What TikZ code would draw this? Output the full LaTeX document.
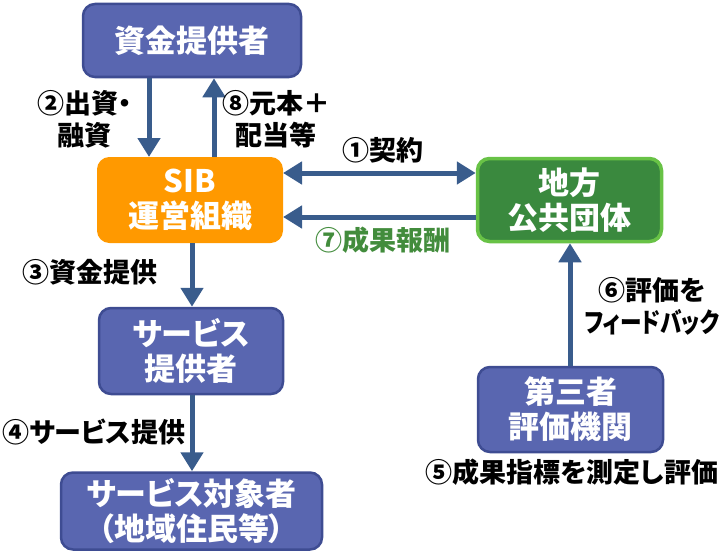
\documentclass[tikz,border=0pt]{standalone}
\usepackage{fontspec}
\setmainfont{Noto Sans CJK JP Black}[RawFeature=+palt]
\usetikzlibrary{arrows.meta}
\definecolor{boxblue}{RGB}{89,102,176}
\definecolor{boxblueline}{RGB}{62,76,146}
\definecolor{sibor}{RGB}{255,153,0}
\definecolor{locgreen}{RGB}{58,137,62}
\definecolor{locline}{RGB}{104,194,70}
\definecolor{arrblue}{RGB}{57,92,140}
\definecolor{lblgreen}{RGB}{66,140,60}
\tikzset{
  box/.style={rounded corners=12pt, align=center, text=white, font=\fontsize{31}{35}\selectfont, inner sep=0pt},
  bluebox/.style={box, fill=boxblue, draw=boxblueline, line width=2.5pt},
  orangebox/.style={box, fill=sibor, draw=sibor, line width=1pt},
  greenbox/.style={box, fill=locgreen, draw=locline, line width=3.5pt},
  arr/.style={draw=arrblue, line width=5pt, -{Triangle[width=22pt,length=19pt]}},
  darr/.style={draw=arrblue, line width=5pt, {Triangle[width=22pt,length=19pt]}-{Triangle[width=22pt,length=19pt]}},
  lbl/.style={align=center, font=\fontsize{27}{32}\selectfont, text=black, inner sep=0pt},
}
\begin{document}
\begin{tikzpicture}[x=1pt,y=-1pt]
\useasboundingbox (0,0) rectangle (728,551);
\node[bluebox, minimum width=218pt, minimum height=73pt] (fund) at (192,40.5) {資金提供者};
\node[orangebox, minimum width=185pt, minimum height=85pt] (sib) at (190,200) {SIB\\運営組織};
\node[greenbox, minimum width=184pt, minimum height=83pt] (loc) at (569.5,200) {地方\\公共団体};
\node[bluebox, minimum width=184pt, minimum height=86pt] (svc) at (191,351) {サービス\\提供者};
\node[bluebox, minimum width=261pt, minimum height=77pt] (tgt) at (191.5,511) {サービス対象者\\（地域住民等）};
\node[bluebox, minimum width=185pt, minimum height=85pt] (eval) at (570.5,409.5) {第三者\\評価機関};

\draw[arr] (fund.south -| 149,0) -- (sib.north -| 149,0);
\draw[arr] (sib.north -| 214,0) -- (fund.south -| 214,0);
\draw[darr] (sib.east |- 0,173) -- (loc.west |- 0,173);
\draw[arr] (loc.west |- 0,217) -- (sib.east |- 0,217);
\draw[arr] (sib.south -| 192,0) -- (svc.north -| 192,0);
\draw[arr] (svc.south -| 192,0) -- (tgt.north -| 192,0);
\draw[arr] (eval.north -| 570,0) -- (loc.south -| 570,0);

\node[lbl] (l2) at (85,119) {②出資・\\融資};
\node[lbl] (l8) at (276,119) {⑧元本＋\\配当等};
\node[lbl] (l1) at (383,150) {①契約};
\node[lbl, text=lblgreen] (l7) at (383,240) {⑦成果報酬};
\node[lbl] (l3) at (90,272) {③資金提供};
\node[lbl] (l4) at (94,432) {④サービス提供};
\node[lbl] (l6) at (652,306) {⑥評価を\\\scalebox{0.8}[1]{フィードバック}};
\node[lbl] (l5) at (572,472) {⑤成果指標を測定し評価};
\end{tikzpicture}
\end{document}
